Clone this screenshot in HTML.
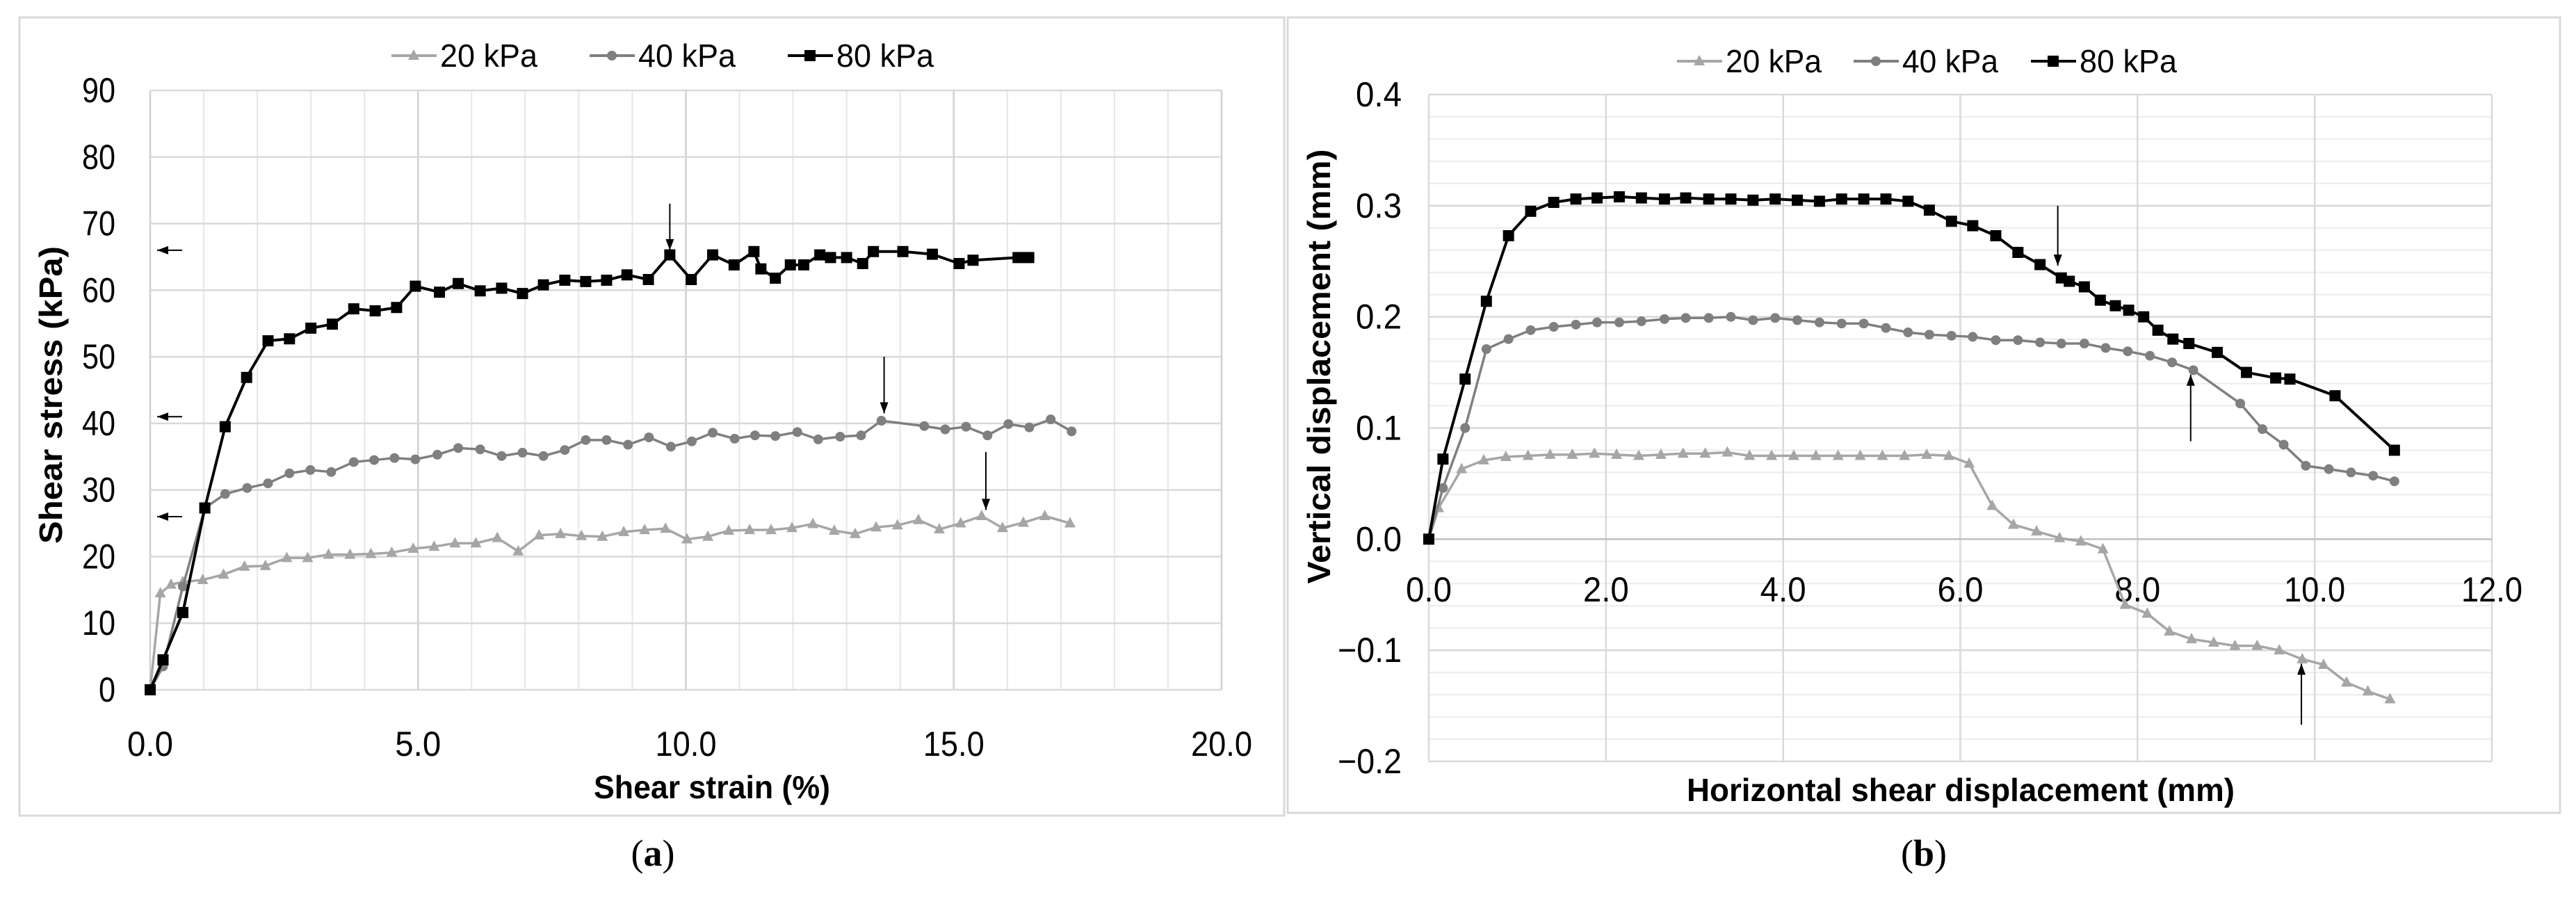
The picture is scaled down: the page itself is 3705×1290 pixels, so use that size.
<!DOCTYPE html>
<html><head><meta charset="utf-8"><style>
html,body{margin:0;padding:0;background:#fff;}
svg{display:block;font-family:"Liberation Sans",sans-serif;}
</style></head><body>
<svg id="fig" width="3705" height="1290" viewBox="0 0 3705 1290" xmlns="http://www.w3.org/2000/svg">
<rect x="28" y="25" width="1819" height="1148" fill="#fff" stroke="#d9d9d9" stroke-width="3"/>
<rect x="1852" y="25" width="1830" height="1144" fill="#fff" stroke="#d9d9d9" stroke-width="3"/>
<g id="ga"></g>
<g id="gb"></g>
<text x="939" y="1245" font-family="Liberation Serif,serif" font-size="54" text-anchor="middle">(<tspan font-weight="bold">a</tspan>)</text>
<text x="2767" y="1245" font-family="Liberation Serif,serif" font-size="54" text-anchor="middle">(<tspan font-weight="bold">b</tspan>)</text>
</svg>
<script>
// ---- Chart A data ----
const aSeriesNames = ["20 kPa","40 kPa","80 kPa"];
const aXTicks = [0,5,10,15,20];
const aYTicks = [0,10,20,30,40,50,60,70,80,90];
const a20x = [0,0.19,0.39,0.61,0.98,1.37,1.76,2.15,2.55,2.94,3.33,3.73,4.12,4.51,4.91,5.3,5.69,6.08,6.48,6.87,7.26,7.66,8.05,8.44,8.84,9.23,9.62,10.02,10.41,10.8,11.19,11.59,11.98,12.37,12.77,13.16,13.55,13.95,14.34,14.73,15.13,15.52,15.91,16.3,16.7,17.17];
const a20y = [0,14.5,15.8,16.2,16.5,17.3,18.5,18.6,19.8,19.8,20.3,20.3,20.4,20.6,21.2,21.5,22,22,22.8,20.8,23.2,23.4,23.1,23,23.7,24,24.2,22.6,23,23.9,24,24,24.3,24.9,23.9,23.4,24.4,24.7,25.5,24.1,25,26.1,24.3,25.1,26.1,25];
const a40x = [0,0.24,0.61,1.02,1.4,1.81,2.2,2.6,2.99,3.38,3.8,4.18,4.56,4.95,5.36,5.75,6.16,6.56,6.95,7.34,7.74,8.13,8.52,8.92,9.31,9.72,10.11,10.5,10.91,11.29,11.67,12.08,12.47,12.88,13.27,13.65,14.45,14.84,15.23,15.63,16.02,16.41,16.81,17.2];
const a40y = [0,3.5,15.5,27.3,29.4,30.3,31,32.5,33,32.7,34.2,34.5,34.8,34.6,35.3,36.3,36.1,35.1,35.6,35.1,36,37.5,37.5,36.8,37.9,36.5,37.3,38.6,37.7,38.2,38.1,38.7,37.6,38,38.2,40.4,39.6,39.1,39.5,38.2,39.9,39.4,40.6,38.8];
const a80x = [0,0.24,0.61,1.02,1.4,1.8,2.2,2.6,3.0,3.4,3.8,4.2,4.6,4.95,5.4,5.75,6.16,6.56,6.95,7.34,7.74,8.13,8.52,8.9,9.3,9.7,10.1,10.5,10.9,11.27,11.4,11.67,11.95,12.2,12.5,12.7,13.0,13.3,13.5,14.05,14.6,15.1,15.36,16.2,16.4];
const a80y = [0,4.5,11.6,27.3,39.5,46.9,52.4,52.7,54.3,54.9,57.2,56.9,57.4,60.6,59.7,61,59.9,60.3,59.5,60.8,61.5,61.3,61.5,62.3,61.6,65.3,61.6,65.3,63.8,65.8,63.2,61.8,63.8,63.8,65.3,64.9,64.9,64,65.8,65.8,65.4,64,64.5,64.9,64.9];
const aLeftArrowY = [66,41,26];
const aDownArrowX = [9.7,13.7,15.6];
const aDownArrowFrom = [73,50,35.7];
const aDownArrowTo = [66,41.5,27];

// ---- Chart B data ----
const bXTicks = [0,2,4,6,8,10,12];
const bYTicks = [-0.2,-0.1,0,0.1,0.2,0.3,0.4];
const b20x = [0,0.11,0.37,0.62,0.87,1.12,1.37,1.62,1.87,2.12,2.37,2.62,2.87,3.12,3.37,3.62,3.87,4.12,4.37,4.62,4.87,5.12,5.37,5.62,5.87,6.1,6.36,6.6,6.86,7.12,7.36,7.61,7.86,8.11,8.36,8.61,8.86,9.1,9.35,9.6,9.86,10.1,10.36,10.6,10.85];
const b20y = [0,0.028,0.063,0.071,0.074,0.075,0.076,0.076,0.077,0.076,0.075,0.076,0.077,0.077,0.078,0.075,0.075,0.075,0.075,0.075,0.075,0.075,0.075,0.076,0.075,0.068,0.03,0.013,0.007,0.001,-0.002,-0.009,-0.059,-0.067,-0.083,-0.09,-0.093,-0.096,-0.096,-0.1,-0.108,-0.113,-0.129,-0.137,-0.144];
const b40x = [0,0.16,0.41,0.65,0.9,1.15,1.41,1.66,1.9,2.15,2.4,2.66,2.9,3.16,3.41,3.66,3.91,4.16,4.41,4.66,4.91,5.16,5.41,5.65,5.9,6.14,6.4,6.65,6.9,7.14,7.4,7.64,7.89,8.14,8.39,8.63,9.16,9.41,9.65,9.9,10.16,10.41,10.66,10.9];
const b40y = [0,0.046,0.1,0.171,0.18,0.188,0.191,0.193,0.195,0.195,0.196,0.198,0.199,0.199,0.2,0.197,0.199,0.197,0.195,0.194,0.194,0.19,0.186,0.184,0.183,0.182,0.179,0.179,0.177,0.176,0.176,0.172,0.169,0.165,0.159,0.152,0.122,0.099,0.085,0.066,0.063,0.06,0.057,0.052];
const b80x = [0,0.16,0.41,0.65,0.9,1.15,1.41,1.66,1.9,2.15,2.4,2.66,2.9,3.16,3.41,3.66,3.91,4.16,4.41,4.66,4.91,5.16,5.41,5.65,5.9,6.14,6.4,6.65,6.9,7.14,7.23,7.4,7.58,7.75,7.9,8.07,8.23,8.4,8.58,8.9,9.23,9.56,9.72,10.23,10.9];
const b80y = [0,0.072,0.144,0.214,0.273,0.295,0.303,0.306,0.307,0.308,0.307,0.306,0.307,0.306,0.306,0.305,0.306,0.305,0.304,0.306,0.306,0.306,0.304,0.296,0.286,0.282,0.273,0.258,0.247,0.235,0.232,0.227,0.215,0.21,0.206,0.2,0.188,0.18,0.176,0.168,0.15,0.145,0.144,0.129,0.08];
const bArrowX = [7.1,8.6,9.85];
const bArrowFrom = [0.3,0.088,-0.167];
const bArrowTo = [0.246,0.148,-0.112];

const NS="http://www.w3.org/2000/svg";
function mk(tag,parent){const e=document.createElementNS(NS,tag);parent.appendChild(e);return e;}
const COLORS=["#a6a6a6","#7f7f7f","#000000"];

function marker(g,type,cx,cy,col){
  let m;
  if(type===0){m=mk('polygon',g);m.setAttribute('points',`${cx},${cy-9} ${cx-8},${cy+6} ${cx+8},${cy+6}`);}
  else if(type===1){m=mk('circle',g);m.setAttribute('cx',cx);m.setAttribute('cy',cy);m.setAttribute('r',7);}
  else {m=mk('rect',g);m.setAttribute('x',cx-8);m.setAttribute('y',cy-8);m.setAttribute('width',16);m.setAttribute('height',16);}
  m.setAttribute('fill',col);
  return m;
}
function series(g,xs,ys,X,Y,type,name){
  const s=mk('g',g);
  
  
  const p=mk('polyline',s);
  
  
  p.setAttribute('points',xs.map((x,i)=>X(x)+','+Y(ys[i])).join(' '));
  p.setAttribute('fill','none');p.setAttribute('stroke',COLORS[type]);p.setAttribute('stroke-width',type===2?4:3.5);p.setAttribute('stroke-linejoin','round');
  xs.forEach((x,i)=>{const m=marker(s,type,X(x),Y(ys[i]),COLORS[type]);
    
    });
}
function line(g,x1,y1,x2,y2,col,w,name){const l=mk('line',g);l.setAttribute('x1',x1);l.setAttribute('y1',y1);l.setAttribute('x2',x2);l.setAttribute('y2',y2);l.setAttribute('stroke',col);l.setAttribute('stroke-width',w);
  
  return l;}
function text(g,x,y,str,size,anchor,name,opts){const t=mk('text',g);t.setAttribute('x',x);t.setAttribute('y',y);t.setAttribute('font-size',size);t.setAttribute('text-anchor',anchor);t.setAttribute('dominant-baseline','central');t.textContent=str;
  
  
  if(opts){for(const k in opts)t.setAttribute(k,opts[k]);}return t;}
function arrow(g,x1,y1,x2,y2,name){line(g,x1,y1,x2,y2,'#000',2,name);
  const a=Math.atan2(y2-y1,x2-x1),L=16,W=6;
  const p=mk('polygon',g);
  
  
  const bx=x2-L*Math.cos(a),by=y2-L*Math.sin(a);
  p.setAttribute('points',`${x2},${y2} ${bx-W*Math.sin(a)},${by+W*Math.cos(a)} ${bx+W*Math.sin(a)},${by-W*Math.cos(a)}`);
  p.setAttribute('fill','#000');}
function legend(g,items,y,name){
  items.forEach((it,i)=>{
    const lg=mk('g',g);
    
    
    line(lg,it.x,y,it.x+65,y,COLORS[i],4,'legend-line');
    marker(lg,i,it.x+32,y,COLORS[i]);
    text(lg,it.x+70,y,it.label,46,'start','legend-label',{textLength:it.w,lengthAdjust:'spacingAndGlyphs'});
  });
}

// ---- Draw chart A ----
(function(){
  const g=document.getElementById('ga');
  const x0=216,x1=1757,y0=992,y1=130;
  const X=v=>x0+(v-0)/(20-0)*(x1-x0);
  const Y=v=>y0-(v-0)/(90-0)*(y0-y1);
  for(let v=0;v<=20;v+=1){line(g,X(v),y1,X(v),y0,v%5===0?'#d0d0d0':'#e6e6e6',v%5===0?2.5:2,'x-gridline');}
  aYTicks.forEach(v=>{line(g,x0,Y(v),x1,Y(v),'#d9d9d9',2.5,'y-gridline');
    text(g,166,Y(v),String(v),50,'end','y-tick-label',{textLength:String(v).length*24,lengthAdjust:'spacingAndGlyphs'});});
  aXTicks.forEach(v=>text(g,X(v),1070,v.toFixed(1),50,'middle','x-tick-label',{textLength:v>=10?88:66,lengthAdjust:'spacingAndGlyphs'}));
  series(g,a20x,a20y,X,Y,0,'series-20kpa');
  series(g,a40x,a40y,X,Y,1,'series-40kpa');
  series(g,a80x,a80y,X,Y,2,'series-80kpa');
  aLeftArrowY.forEach(v=>arrow(g,262,Y(v),226,Y(v),'peak-arrow-left'));
  aDownArrowX.forEach((v,i)=>arrow(g,X(v),Y(aDownArrowFrom[i]),X(v),Y(aDownArrowTo[i]),'peak-arrow-down'));
  text(g,1024,1132,'Shear strain (%)',46,'middle','x-axis-title',{'font-weight':'bold',textLength:340,lengthAdjust:'spacingAndGlyphs'});
  text(g,0,0,'Shear stress (kPa)',46,'middle','y-axis-title',{'font-weight':'bold',textLength:428,lengthAdjust:'spacingAndGlyphs',transform:'translate(73,568) rotate(-90)'});
  legend(g,[{x:563,label:aSeriesNames[0],w:140},{x:848,label:aSeriesNames[1],w:140},{x:1133,label:aSeriesNames[2],w:140}],80,'legend-a');
})();

// ---- Draw chart B ----
(function(){
  const g=document.getElementById('gb');
  const x0=2055,x1=3584,yTop=136,yBot=1095;
  const X=v=>x0+(v-0)/(12-0)*(x1-x0);
  const Y=v=>yBot-(v-(-0.2))/(0.4-(-0.2))*(yBot-yTop);
  for(let k=-10;k<=20;k++){const v=k*0.02;if(k%5!==0)line(g,x0,Y(v),x1,Y(v),'#ececec',2,'minor-gridline');}
  bXTicks.forEach(v=>line(g,X(v),yTop,X(v),yBot,'#d9d9d9',2.5,'x-gridline'));
  bYTicks.forEach(v=>{line(g,x0,Y(v),x1,Y(v),v===0?'#bfbfbf':'#d9d9d9',2.5,'y-gridline');
    const s=v.toFixed(1).replace('-','\u2212');
    text(g,2016,Y(v),s,50,'end','y-tick-label',{textLength:v<0?92:66,lengthAdjust:'spacingAndGlyphs'});});
  bXTicks.forEach(v=>text(g,X(v),848,v.toFixed(1),50,'middle','x-tick-label',{textLength:v>=10?88:66,lengthAdjust:'spacingAndGlyphs'}));
  series(g,b20x,b20y,X,Y,0,'series-20kpa');
  series(g,b40x,b40y,X,Y,1,'series-40kpa');
  series(g,b80x,b80y,X,Y,2,'series-80kpa');
  bArrowX.forEach((v,i)=>arrow(g,X(v),Y(bArrowFrom[i]),X(v),Y(bArrowTo[i]),'failure-arrow'));
  text(g,2820,1136,'Horizontal shear displacement (mm)',46,'middle','x-axis-title',{'font-weight':'bold',textLength:788,lengthAdjust:'spacingAndGlyphs'});
  text(g,0,0,'Vertical displacement (mm)',46,'middle','y-axis-title',{'font-weight':'bold',textLength:625,lengthAdjust:'spacingAndGlyphs',transform:'translate(1897,527) rotate(-90)'});
  legend(g,[{x:2412,label:aSeriesNames[0],w:138},{x:2666,label:aSeriesNames[1],w:138},{x:2921,label:aSeriesNames[2],w:140}],88,'legend-b');
})();
</script>
</body></html>
